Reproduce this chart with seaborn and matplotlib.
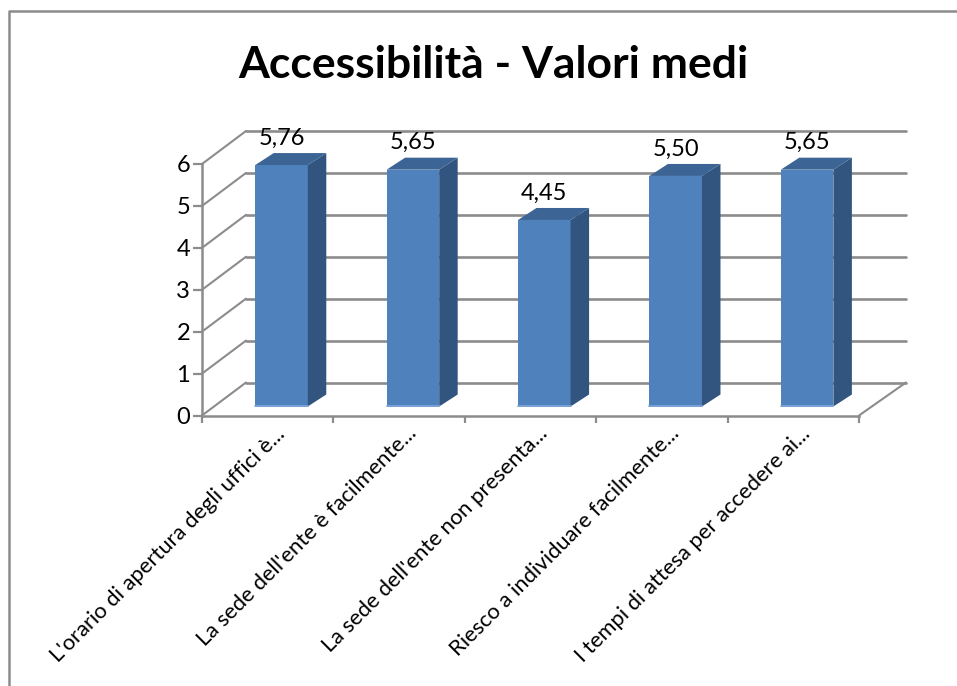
import matplotlib
matplotlib.use("Agg")
import matplotlib.pyplot as plt
import pandas as pd
import seaborn as sns
from matplotlib.patches import Polygon
from matplotlib.transforms import ScaledTranslation

categories = ["L'orario di apertura degli uffici è...",
              "La sede dell'ente è facilmente...",
              "La sede dell'ente non presenta...",
              "Riesco a individuare facilmente...",
              "I tempi di attesa per accedere ai..."]
values = [5.76, 5.65, 4.45, 5.50, 5.65]
value_labels = ["5,76", "5,65", "4,45", "5,50", "5,65"]
y_ticks = [0, 1, 2, 3, 4, 5, 6]
title = "Accessibilità - Valori medi"

W, H = 957, 686
FONT = "Lato"
GRID = "#8c8c8c"
FRONT = "#4f81bd"
SIDE = "#31557e"
TOP = "#3c6595"

sns.set_theme(style="white")
plt.rcParams["font.family"] = [FONT, "DejaVu Sans"]

fig = plt.figure(figsize=(W / 100, H / 100), dpi=100, facecolor="white")


def box(x0, x1, ytop, ybot):
    return [x0 / W, 1 - ybot / H, (x1 - x0) / W, (ybot - ytop) / H]


# Chart frame (only left and top edges are visible in the crop)
fig.add_artist(plt.Line2D([9 / W, 9 / W, 1], [0, 1 - 11 / H, 1 - 11 / H],
                          color=GRID, lw=1.8, transform=fig.transFigure))

# Front plane: axis, ticks, tick labels
ax = fig.add_axes(box(202, 859, 164, 415.5))
ax.set_xlim(-0.5, 4.5)
ax.set_ylim(0, 6)
ax.patch.set_alpha(0)
sns.despine(ax=ax, top=True, right=True)
for s in ("left", "bottom"):
    ax.spines[s].set_color(GRID)
    ax.spines[s].set_linewidth(1.8)

px_x = 657 / 5
px_y = 251.5 / 6
dxl, dxr, dy = 44 / px_x, 47 / px_x, 33 / px_y
for v in y_ticks:
    ax.plot([-0.5, -0.5 + dxl], [v, v + dy], color=GRID, lw=1.5, clip_on=False, zorder=1)
    ax.plot([-0.5 + dxl, 4.5 + dxr], [v + dy, v + dy], color=GRID, lw=1.9, clip_on=False, zorder=1)
ax.plot([4.5, 4.5 + dxr], [0, dy], color=GRID, lw=1.5, clip_on=False, zorder=1)

ax.set_yticks(y_ticks)
ax.set_yticklabels([str(v) for v in y_ticks], fontsize=17, color="black")
ax.tick_params(axis="y", direction="out", length=6.5, width=1.6, color=GRID, pad=2, left=True)
ax.set_xticks([i - 0.5 for i in range(6)], minor=False)
ax.set_xticklabels([])
ax.tick_params(axis="x", direction="out", length=5, width=1.6, color=GRID, bottom=True)

label_shift = ScaledTranslation(14 / 100, -15 / 100, fig.dpi_scale_trans)
for i, c in enumerate(categories):
    ax.text(i, 0, c, rotation=45, rotation_mode="anchor", ha="right", va="center",
            fontsize=15.8, color="black", clip_on=False,
            transform=ax.get_xaxis_transform() + label_shift)

# Bars, set part way into the floor depth
bx = fig.add_axes(box(202 + 13.8, 859 + 13.8, 164 - 9, 415.5 - 9))
df = pd.DataFrame({"categoria": categories, "valore": values})
sns.barplot(data=df, x="categoria", y="valore", ax=bx, width=0.4, color=FRONT,
            saturation=1, order=categories, zorder=3, linewidth=0, edgecolor="none")
bx.set_xlim(-0.5, 4.5)
bx.set_ylim(0, 6)
bx.axis("off")
bdx, bdy = 18.5 / px_x, 12 / px_y
for p, lab in zip(list(bx.patches), value_labels):
    x0, w, h = p.get_x(), p.get_width(), p.get_height()
    x1 = x0 + w
    bx.add_patch(Polygon([(x1, 0), (x1 + bdx, bdy), (x1 + bdx, h + bdy), (x1, h)],
                         closed=True, fc=SIDE, ec="none", clip_on=False, zorder=3))
    bx.add_patch(Polygon([(x0, h), (x0 + bdx, h + bdy), (x1 + bdx, h + bdy), (x1, h)],
                         closed=True, fc=TOP, ec="none", clip_on=False, zorder=3))
    bx.plot([x0, x1], [0.02, 0.02], color="#7da6d8", lw=1.3, clip_on=False, zorder=4)
    bx.annotate(lab, (x0 + w / 2, h), xytext=(0, 27 * 0.72), textcoords="offset points",
                ha="center", va="center", fontsize=17, color="black",
                annotation_clip=False, zorder=5)

fig.text(493 / W, 1 - 65 / H, title, ha="center", va="center",
         fontsize=32, fontweight="bold", color="black")

fig.savefig("out.png", dpi=100)
